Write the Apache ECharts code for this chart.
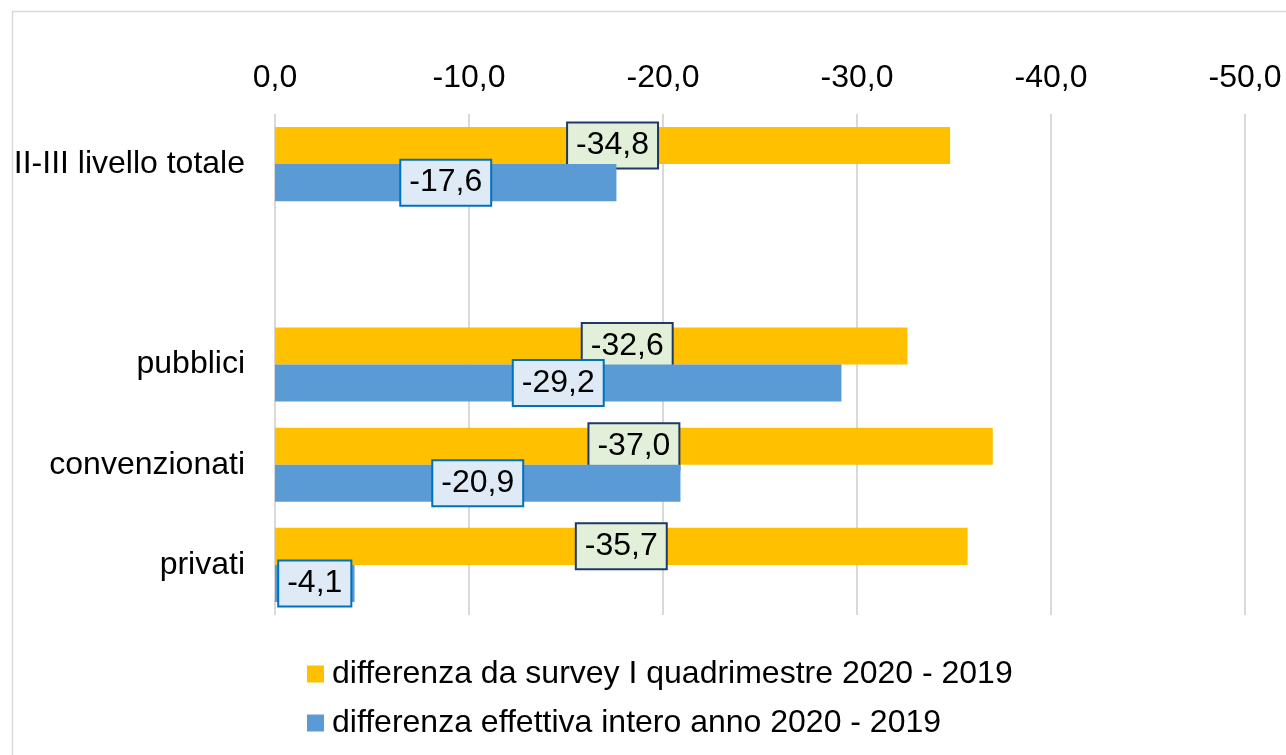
<!DOCTYPE html>
<html>
<head>
<meta charset="utf-8">
<script src="https://cdn.jsdelivr.net/npm/echarts@6/dist/echarts.min.js"></script>
<style>
  html, body { margin: 0; padding: 0; background: #fff; }
  #chart { width: 1286px; height: 755px; }
</style>
</head>
<body>
<div id="chart"></div>
<script>
// categories (the empty one is the gap row between the total and the breakdown)
const categories = ['II-III livello totale', '', 'pubblici', 'convenzionati', 'privati'];
const seriesNames = [
  'differenza da survey I quadrimestre 2020 - 2019',
  'differenza effettiva intero anno 2020 - 2019'
];
const surveyDiff = [-34.8, null, -32.6, -37.0, -35.7];
const actualDiff = [-17.6, null, -29.2, -20.9, -4.1];
const xTicks = [0, -10, -20, -30, -40, -50];

const FONT = 'Liberation Sans, Arial, sans-serif';
const FS = 32;
const fmt = v => v.toFixed(1).replace('.', ',').replace('-0,0', '0,0');

const chart = echarts.init(document.getElementById('chart'));

const option = {
  color: ['#FFC000', '#5B9BD5'],
  textStyle: { fontFamily: FONT, color: '#000' },
  animation: false,
  graphic: [{
    type: 'rect',
    shape: { x: 12.5, y: 11.5, width: 1400, height: 1000 },
    style: { fill: 'none', stroke: '#D9D9D9', lineWidth: 1.5 },
    silent: true
  }],
  grid: { left: 275, right: 41, top: 114, bottom: 140 },
  legend: {
    orient: 'vertical',
    left: 307,
    top: 658,
    padding: 0,
    itemWidth: 17,
    itemHeight: 17,
    itemGap: 17,
    icon: 'rect',
    textStyle: { fontSize: FS, fontFamily: FONT, color: '#000', lineHeight: 32, padding: [0, 0, 0, 3] },
    data: seriesNames
  },
  xAxis: {
    type: 'value',
    position: 'top',
    inverse: true,
    min: xTicks[xTicks.length - 1],
    max: xTicks[0],
    interval: 10,
    axisLine: { show: false },
    axisTick: { show: false },
    axisLabel: {
      fontSize: FS, fontFamily: FONT, color: '#000', margin: 20,
      formatter: v => fmt(v)
    },
    splitLine: { lineStyle: { color: '#D9D9D9', width: 2 } }
  },
  yAxis: {
    type: 'category',
    inverse: true,
    data: categories,
    axisLine: { show: false },
    axisTick: { show: false },
    axisLabel: { fontSize: FS, fontFamily: FONT, color: '#000', margin: 30 }
  },
  series: [
    {
      name: seriesNames[0],
      type: 'bar',
      barGap: '0%',
      barCategoryGap: '26%',
      data: surveyDiff.map((v, i) => i === 2 ? { value: v, label: { offset: [36, 0] } } : v),
      label: {
        show: true,
        position: 'inside',
        formatter: p => fmt(p.value),
        fontSize: FS, fontFamily: FONT, color: '#000',
        backgroundColor: '#E2F0D9',
        borderColor: '#1F3864',
        borderWidth: 2,
        padding: [6, 8, 6, 8]
      },
      z: 2
    },
    {
      name: seriesNames[1],
      type: 'bar',
      barGap: '0%',
      barCategoryGap: '26%',
      data: actualDiff,
      label: {
        show: true,
        position: 'inside',
        formatter: p => fmt(p.value),
        fontSize: FS, fontFamily: FONT, color: '#000',
        backgroundColor: '#DEEBF7',
        borderColor: '#0070C0',
        borderWidth: 2,
        padding: [6, 8, 6, 8]
      },
      z: 3
    }
  ]
};

chart.setOption(option);
</script>
</body>
</html>
